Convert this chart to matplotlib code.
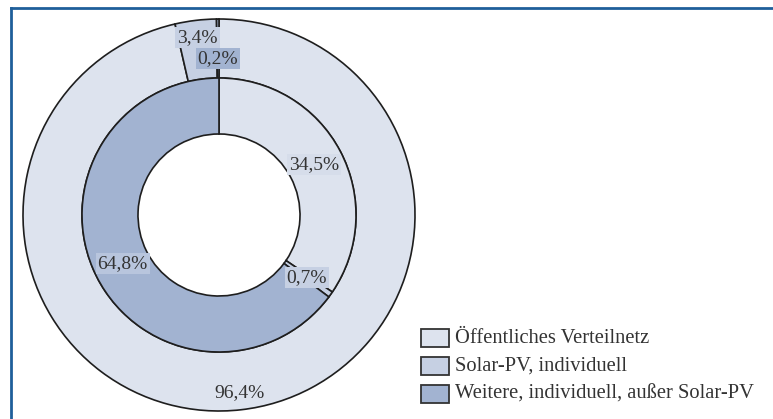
import matplotlib.pyplot as plt
from matplotlib.patches import Rectangle
from matplotlib.lines import Line2D
import numpy as np

plt.rcParams['font.family'] = ['Liberation Serif', 'DejaVu Serif']

# data
categories = ['Öffentliches Verteilnetz', 'Solar-PV, individuell',
              'Weitere, individuell, außer Solar-PV']
outer_values = [96.4, 3.4, 0.2]
inner_values = [34.5, 0.7, 64.8]
outer_labels = ['96,4%', '3,4%', '0,2%']
inner_labels = ['34,5%', '0,7%', '64,8%']

colors = ['#dde3ee', '#c6d0e3', '#a2b3d1']
edge = '#1e1e1e'
txt = '#333333'

W, H = 773, 419
cx, cy, R = 219, 215, 196  # pie centre / radius in pixels

fig = plt.figure(figsize=(W / 100, H / 100), dpi=100)
ax = fig.add_axes([0, 0, 1, 1])
ax.axis('off')

r_out, r_mid, r_hole = 1.0, 137 / R, 81 / R
wedge_kw = dict(edgecolor=edge, linewidth=1.2)

ax.pie(outer_values, colors=colors, startangle=90, counterclock=False,
       radius=r_out, wedgeprops=dict(width=r_out - r_mid, **wedge_kw))
ax.pie(inner_values, colors=colors, startangle=90, counterclock=False,
       radius=r_mid, wedgeprops=dict(width=r_mid - r_hole, **wedge_kw))
ax.set_xlim(-cx / R, (W - cx) / R)
ax.set_ylim(-(H - cy) / R, cy / R)
ax.set_aspect('auto')


def mid_angles(vals):
    c = np.cumsum([0] + vals)
    return [np.deg2rad(90 - 3.6 * (c[i] + c[i + 1]) / 2) for i in range(len(vals))]


outer_r = [0.913, 0.913, 0.80]
outer_box = [None, colors[1], colors[2]]
for ang, lab, rr, bc in zip(mid_angles(outer_values), outer_labels, outer_r, outer_box):
    bb = dict(boxstyle='square,pad=0.1', fc=bc, ec='none') if bc else None
    ax.text(rr * np.cos(ang), rr * np.sin(ang), lab, ha='center', va='center',
            fontsize=14, color=txt, bbox=bb)

inner_box = ['#d6ddea', colors[1], '#b8c5dd']
for ang, lab, bc in zip(mid_angles(inner_values), inner_labels, inner_box):
    rr = 0.55
    ax.text(rr * np.cos(ang), rr * np.sin(ang), lab, ha='center', va='center',
            fontsize=14, color=txt,
            bbox=dict(boxstyle='square,pad=0.1', fc=bc, ec='none'))

# legend drawn in pixel coordinates
for i, (lab, col) in enumerate(zip(categories, colors)):
    yc = 338 + 28 * i
    fig.add_artist(Rectangle((421 / W, 1 - (yc + 9) / H), 28 / W, 18 / H,
                             transform=fig.transFigure, fc=col, ec='#333333', lw=1.3))
    fig.text(455 / W, 1 - yc / H, lab, ha='left', va='center',
             fontsize=14.8, color=txt)

# blue frame
frame = '#1f5f9a'
fig.add_artist(Line2D([11 / W, 1], [1 - 8.5 / H, 1 - 8.5 / H],
                      transform=fig.transFigure, color=frame, lw=2))
fig.add_artist(Line2D([11 / W, 11 / W], [0, 1 - 8.5 / H],
                      transform=fig.transFigure, color=frame, lw=2))

fig.savefig('out.png', dpi=100)
